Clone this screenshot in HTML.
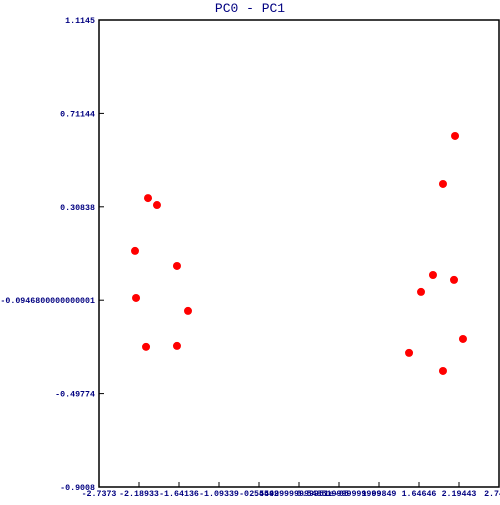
<!DOCTYPE html>
<html><head><meta charset="utf-8"><style>
body{margin:0;background:#fff}
svg text{font-family:"Liberation Mono",monospace;fill:#000080}
</style></head><body>
<svg id="c" width="500" height="500">
<text x="250" y="12" text-anchor="middle" font-size="13">PC0 - PC1</text>
<rect x="99" y="20" width="400" height="467" fill="none" stroke="#000" stroke-width="1.5"/>
<g id="ax"></g><g id="pts"></g>
</svg>
<script>
const xTicks=["-2.7373","-2.18933","-1.64136","-1.09339","-0.54542","2.54999999999951e-05","0.548519999999999","1.09849","1.64646","2.19443","2.7424"];
const yTicks=["1.1145","0.71144","0.30838","-0.0946800000000001","-0.49774","-0.9008"];
const pcX=[-2.066,-1.943,-2.244,-1.669,-2.230,-1.518,-2.093,-1.669,2.140,1.975,1.838,1.674,2.126,1.510,1.975,2.249];
const pcY=[0.346,0.316,0.118,0.053,-0.085,-0.141,-0.296,-0.292,0.614,0.407,0.014,-0.059,-0.007,-0.322,-0.400,-0.262];
const X0=-2.7373,X1=2.7424,Y0=-0.9008,Y1=1.1145;
const L=99,R=499,T=20,B=487;
const sx=v=>L+(v-X0)/(X1-X0)*(R-L);
const sy=v=>B-(v-Y0)/(Y1-Y0)*(B-T);
const NS="http://www.w3.org/2000/svg";
const ax=document.getElementById('ax'),pts=document.getElementById('pts');
function mk(t,a,p){const e=document.createElementNS(NS,t);for(const k in a)e.setAttribute(k,a[k]);p.appendChild(e);return e;}
xTicks.forEach((s,i)=>{const x=L+i*(R-L)/(xTicks.length-1);
 const l=mk('line',{x1:x,x2:x,y1:B,y2:B-5,stroke:'#000'},ax);
 
 
 const t=mk('text',{x:x,y:B+9,'text-anchor':'middle','font-size':'8.3','font-weight':'bold'},ax);t.textContent=s;
 
 });
yTicks.forEach((s,i)=>{const y=T+i*(B-T)/(yTicks.length-1);
 const l=mk('line',{x1:L,x2:L+5,y1:y,y2:y,stroke:'#000'},ax);
 
 
 const t=mk('text',{x:L-4,y:y+3,'text-anchor':'end','font-size':'8.3','font-weight':'bold'},ax);t.textContent=s;
 
 });
pcX.forEach((v,i)=>{const c=mk('circle',{cx:sx(v),cy:sy(pcY[i]),r:4,fill:'#ff0000'},pts);
 
 });
</script>
</body></html>
